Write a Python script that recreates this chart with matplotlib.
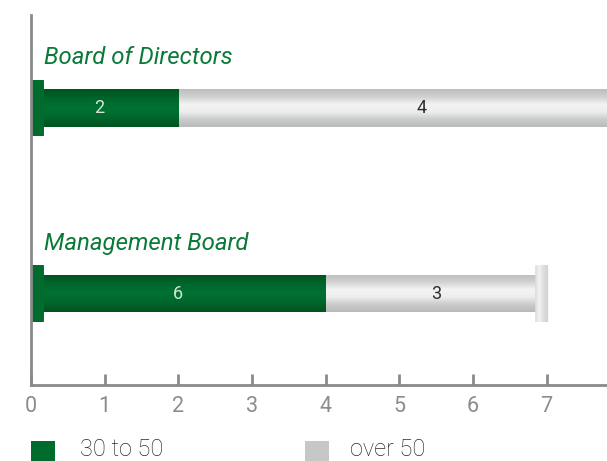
import numpy as np
import matplotlib
matplotlib.use("Agg")
import matplotlib.pyplot as plt
from matplotlib.patches import Rectangle, FancyBboxPatch
from matplotlib.colors import LinearSegmentedColormap

plt.rcParams['font.family'] = ['Roboto', 'DejaVu Sans']

# --- data ---
categories = ["Board of Directors", "Management Board"]
series_names = ["30 to 50", "over 50"]
bar_young = [2.0, 4.0]          # drawn length of green segment
bar_old = [6.5, 2.9]            # drawn length of grey segment
label_young = ["2", "6"]
label_old = ["4", "3"]
right_cap = [False, True]       # grey end cap visible only where bar ends inside axis
xticks = [0, 1, 2, 3, 4, 5, 6, 7]

GREEN = "#006b2d"
GREY = "#c6c7c7"
green_cmap = LinearSegmentedColormap.from_list(
    "g", ["#00521f", "#00672c", "#007130", "#00672c", "#00521f"])
grey_cmap = LinearSegmentedColormap.from_list(
    "s", ["#b9baba", "#cbcccc", "#eeeeee", "#f3f3f3", "#d0d1d1", "#bdbebe"])

fig = plt.figure(figsize=(6.07, 4.61), dpi=100)
ax = fig.add_axes([31 / 607, 76 / 461, 576 / 607, 370 / 461])
ax.set_xlim(0, 7.82)
ax.set_ylim(-0.49, 1.5)

ypos = [1, 0]
bar_h = 0.2
cap_h = 0.306
cap_w = 0.176
grad = np.linspace(0, 1, 64).reshape(-1, 1)


def grad_patch(patch, cmap):
    ax.add_patch(patch)
    x0, y0 = patch.get_x(), patch.get_y()
    w, h = patch.get_width(), patch.get_height()
    im = ax.imshow(grad, cmap=cmap, aspect="auto", origin="lower",
                   extent=(x0 - 0.05, x0 + w + 0.05, y0, y0 + h),
                   zorder=patch.get_zorder(), interpolation="bicubic")
    im.set_clip_path(patch)


for i, y in enumerate(ypos):
    # grey segment
    r = Rectangle((bar_young[i], y - bar_h / 2), bar_old[i], bar_h,
                  facecolor="none", edgecolor="none", zorder=2)
    grad_patch(r, grey_cmap)
    # green segment
    r = Rectangle((0, y - bar_h / 2), bar_young[i], bar_h,
                  facecolor="none", edgecolor="none", zorder=3)
    grad_patch(r, green_cmap)
    # left cap
    c = FancyBboxPatch((0.02, y - cap_h / 2 + 0.02), cap_w - 0.04, cap_h - 0.04,
                       boxstyle="round,pad=0.02", mutation_aspect=2.5,
                       facecolor="none", edgecolor="none", zorder=4)
    ax.add_patch(c)
    c2 = Rectangle((0, y - cap_h / 2), cap_w, cap_h, facecolor=GREEN,
                   edgecolor="none", zorder=4)
    ax.add_patch(c2)
    c2.set_clip_path(c)
    if right_cap[i]:
        end = bar_young[i] + bar_old[i]
        c = FancyBboxPatch((end - 0.035, y - cap_h / 2 + 0.02), cap_w - 0.04, cap_h - 0.04,
                           boxstyle="round,pad=0.02", mutation_aspect=2.5,
                           facecolor="none", edgecolor="none", zorder=4)
        ax.add_patch(c)
        im = ax.imshow(grad.T, aspect="auto", origin="lower",
                       cmap=LinearSegmentedColormap.from_list(
                           "c", ["#d4d5d5", "#f2f2f2", "#dcdddd", "#cfd0d0"]),
                       extent=(end - 0.065, end + cap_w - 0.045,
                               y - cap_h / 2, y + cap_h / 2), zorder=4)
        im.set_clip_path(c)

    ax.text(bar_young[i] / 2 - 0.07 * (i == 0), y, label_young[i], ha="center", va="center",
            color="#d5e4da", fontsize=13, fontweight="normal", zorder=6)
    ax.text(bar_young[i] + bar_old[i] / 2 + 0.05, y, label_old[i], ha="center", va="center",
            color="#2e2e2e", fontsize=13, fontweight="normal", zorder=6)
    ax.text(cap_w, y + 0.27, categories[i], ha="left", va="center",
            color="#0a7a38", fontsize=17.3, style="italic", zorder=6)

for s in ["top", "right"]:
    ax.spines[s].set_visible(False)
for s in ["left", "bottom"]:
    ax.spines[s].set_color("#8a8a8a")
    ax.spines[s].set_linewidth(2)
    ax.spines[s].set_zorder(5)
ax.set_xticks(xticks)
ax.set_xticklabels([str(t) for t in xticks])
ax.set_yticks([])
ax.tick_params(axis="x", direction="in", length=8, width=2, color="#8a8a8a",
               labelcolor="#8c8c8c", labelsize=15.5, pad=8)

# legend
fig.patches.append(Rectangle((31 / 607, 0), 24 / 607, 20 / 461, transform=fig.transFigure,
                             facecolor=GREEN, edgecolor="none"))
fig.patches.append(Rectangle((305 / 607, 0), 24 / 607, 20 / 461, transform=fig.transFigure,
                             facecolor=GREY, edgecolor="none"))
fig.text(80 / 607, 12 / 461, series_names[0], ha="left", va="center", color="#2a2a2a",
         fontsize=17, fontweight="light")
fig.text(350 / 607, 12 / 461, series_names[1], ha="left", va="center", color="#2a2a2a",
         fontsize=17, fontweight="light")

fig.savefig("out.png", dpi=100)
